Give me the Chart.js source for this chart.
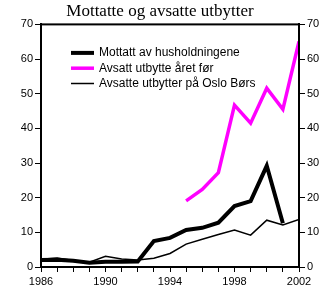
<!DOCTYPE html>
<html>
<head>
<meta charset="utf-8">
<script src="https://cdn.jsdelivr.net/npm/chart.js@4"></script>
<style>
  html, body { margin: 0; padding: 0; background: #fff; }
  #wrap { width: 320px; height: 288px; }
</style>
</head>
<body>
<div id="wrap"><canvas id="chart" width="320" height="288"></canvas></div>
<script>
const years = [1986, 1987, 1988, 1989, 1990, 1991, 1992, 1993, 1994,
  1995, 1996, 1997, 1998, 1999, 2000, 2001, 2002];

// Mottatt av husholdningene
const mottatt = [2.0, 2.1, 1.8, 1.2, 1.5, 1.5, 1.6, 7.5, 8.4, 10.7, 11.3, 12.8, 17.6, 19.0, 29.2, 12.6, null];

// Avsatt utbytte året før
const avsattFor = [null, null, null, null, null, null, null, null, null,
  19.1, 22.4, 27.2, 46.7, 41.5, 51.6, 45.5, 65.1];

// Avsatte utbytter på Oslo Børs
const osloBors = [2.2, 2.6, 1.9, 1.4, 3.1, 2.3, 2.0, 2.5, 3.9, 6.6, 8.0, 9.4, 10.7, 9.2, 13.5, 12.1, 13.7];

const yTicks = [0, 10, 20, 30, 40, 50, 60, 70];

const toPoints = vals => years.map((yr, i) => ({ x: yr, y: vals[i] }));

const tickFont = { family: 'Liberation Sans, Arial, sans-serif', size: 11 };

// legend inside the plot + top frame line
const boxLegend = {
  id: 'boxLegend',
  afterDraw(chart) {
    const ctx = chart.ctx;
    const a = chart.chartArea;
    ctx.save();
    ctx.strokeStyle = '#000';
    ctx.lineWidth = 2;
    ctx.strokeRect(a.left, a.top, a.right - a.left, a.bottom - a.top);
    ctx.font = '12px Liberation Sans, Arial, sans-serif';
    ctx.textBaseline = 'middle';
    ctx.fillStyle = '#000';
    chart.data.datasets.forEach((ds, i) => {
      const y = a.top + 28.5 + i * 15.3;
      ctx.beginPath();
      ctx.strokeStyle = ds.borderColor;
      ctx.lineWidth = ds.borderWidth;
      ctx.moveTo(a.left + 30, y);
      ctx.lineTo(a.left + 53, y);
      ctx.stroke();
      ctx.fillText(ds.label, a.left + 58, y);
    });
    ctx.restore();
  }
};

new Chart(document.getElementById('chart'), {
  type: 'line',
  data: {
    datasets: [
      {
        label: 'Mottatt av husholdningene',
        data: toPoints(mottatt),
        borderColor: '#000000',
        borderWidth: 4,
      },
      {
        label: 'Avsatt utbytte året før',
        data: toPoints(avsattFor),
        borderColor: '#ff00ff',
        borderWidth: 3.5,
      },
      {
        label: 'Avsatte utbytter på Oslo Børs',
        data: toPoints(osloBors),
        borderColor: '#000000',
        borderWidth: 1.5,
      },
    ],
  },
  options: {
    responsive: false,
    animation: false,
    devicePixelRatio: 1,
    layout: { padding: 0 },
    elements: { point: { radius: 0 }, line: { tension: 0 } },
    plugins: {
      legend: { display: false },
      tooltip: { enabled: false },
      title: {
        display: true,
        text: 'Mottatte og avsatte utbytter',
        color: '#000',
        font: { family: 'Liberation Serif, Times New Roman, serif', size: 17, weight: 'normal' },
        padding: { top: 1, bottom: 3 },
      },
    },
    scales: {
      x: {
        type: 'linear',
        min: years[0],
        max: years[years.length - 1],
        afterBuildTicks: s => { s.ticks = years.map(v => ({ value: v })); },
        afterFit: s => { s.height = 21; },
        ticks: {
          color: '#000',
          font: tickFont,
          padding: 3,
          maxRotation: 0,
          autoSkip: false,
          callback: v => ((v - years[0]) % 4 === 0 ? String(v) : ''),
        },
        grid: { drawOnChartArea: false, drawTicks: true, tickLength: 5, color: '#000' },
        border: { display: true, color: '#000', width: 2 },
      },
      y: {
        position: 'left',
        min: 0,
        max: 70,
        afterBuildTicks: s => { s.ticks = yTicks.map(v => ({ value: v })); },
        afterFit: s => { s.width = 41; },
        ticks: { color: '#000', font: tickFont, padding: 2 },
        grid: { drawOnChartArea: false, drawTicks: true, tickLength: 6, color: '#000' },
        border: { display: true, color: '#000', width: 2 },
      },
      y2: {
        position: 'right',
        min: 0,
        max: 70,
        afterBuildTicks: s => { s.ticks = yTicks.map(v => ({ value: v })); },
        afterFit: s => { s.width = 21; },
        ticks: { color: '#000', font: tickFont, padding: 2 },
        grid: { drawOnChartArea: false, drawTicks: true, tickLength: 6, color: '#000' },
        border: { display: true, color: '#000', width: 2 },
      },
    },
  },
  plugins: [boxLegend],
});
</script>
</body>
</html>
